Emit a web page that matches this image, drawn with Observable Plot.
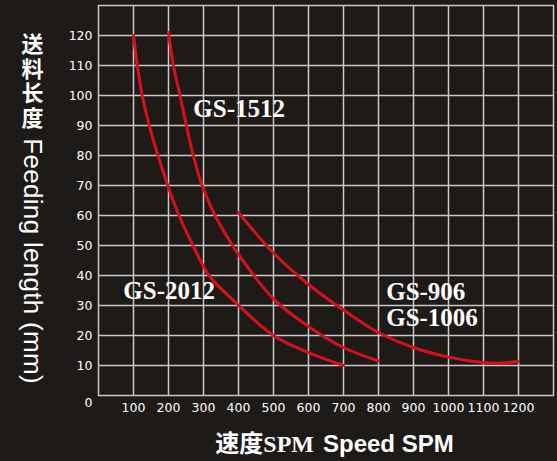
<!DOCTYPE html>
<html>
<head>
<meta charset="utf-8">
<script src="https://cdn.jsdelivr.net/npm/d3@7"></script>
<script src="https://cdn.jsdelivr.net/npm/@observablehq/plot@0.6"></script>
<style>
  html, body { margin: 0; padding: 0; background: #1e1a18; }
  #chart { width: 557px; height: 461px; }
</style>
</head>
<body>
<div id="chart"></div>
<script>
// Tick values
const xTicks = [100, 200, 300, 400, 500, 600, 700, 800, 900, 1000, 1100, 1200];
const yTicks = [10, 20, 30, 40, 50, 60, 70, 80, 90, 100, 110, 120];

// Series: speed (SPM) vs feeding length (mm)
const gs2012X = [100, 111, 125, 145, 170, 198, 230, 270, 316, 392, 500, 600, 700];
const gs2012Y = [120, 110, 100, 90, 80, 70, 60, 50, 40, 31, 20, 14.3, 10];

const gs1512X = [200, 214, 233, 251, 271, 296, 333, 383, 400, 500, 600, 700, 800];
const gs1512Y = [121, 110, 100, 90, 80, 70, 60, 50, 47, 32.2, 23, 16, 11.5];

const gs906X = [400, 500, 600, 700, 800, 900, 1000, 1100, 1150, 1200];
const gs906Y = [61, 47.5, 37, 28.5, 21, 16, 12.8, 11, 10.8, 11.4];

// Curve labels (anchored at start, data coordinates)
const labelText = ["GS-1512", "GS-2012", "GS-906", "GS-1006"];
const labelX = [271, 71, 822, 822];
const labelY = [95.5, 34.8, 34.5, 26.0];

// Axis titles
const yTitleCN = "送料长度";
const yTitleEN = "Feeding length (mm)";
const xTitleCN = "速度SPM";
const xTitleEN = "Speed SPM";

const lines = [
  ...gs2012X.map((x, i) => ({series: "GS-2012", x, y: gs2012Y[i]})),
  ...gs1512X.map((x, i) => ({series: "GS-1512", x, y: gs1512Y[i]})),
  ...gs906X.map((x, i) => ({series: "GS-906", x, y: gs906Y[i]}))
];
const labels = labelText.map((t, i) => ({text: t, x: labelX[i], y: labelY[i]}));

const gridColor = "#c8c8c8";
const red = "#d8101c";
const yTitle = yTitleCN + " " + yTitleEN;

const chart = Plot.plot({
  width: 557,
  height: 461,
  marginLeft: 98,
  marginRight: 4,
  marginTop: 5,
  marginBottom: 66,
  style: {background: "#1e1a18", color: "white", fontFamily: "'DejaVu Sans', sans-serif"},
  x: {domain: [0, 1300]},
  y: {domain: [0, 130]},
  marks: [
    Plot.gridX(xTicks, {stroke: gridColor, strokeOpacity: 1, strokeWidth: 1.5}),
    Plot.gridY(yTicks, {stroke: gridColor, strokeOpacity: 1, strokeWidth: 1.5}),
    Plot.frame({stroke: gridColor, strokeWidth: 1.5}),
    Plot.axisX(xTicks, {tickSize: 0, tickPadding: 8, fontSize: 12.5, fill: "white", label: null, tickFormat: d => String(d)}),
    Plot.axisY(yTicks, {tickSize: 0, tickPadding: 6, fontSize: 12.5, fill: "white", label: null}),
    Plot.text([{x: 0, y: 0, t: "0"}], {x: "x", y: "y", text: "t", textAnchor: "end", dx: -6, dy: 7, fontSize: 12.5, fill: "white"}),
    Plot.line(lines, {x: "x", y: "y", z: "series", stroke: red, strokeWidth: 3, curve: "catmull-rom"}),
    Plot.text(labels, {x: "x", y: "y", text: "text", textAnchor: "start", lineAnchor: "middle",
      fill: "white", fontFamily: "'Liberation Serif', 'Times New Roman', serif", fontWeight: "bold", fontSize: 25}),
    // Y axis title (vertical writing set below)
    Plot.text([yTitle], {frameAnchor: "top-left", textAnchor: "start", lineAnchor: "middle",
      dx: -66, dy: 19, fontSize: 26, fill: "white", fontFamily: "'Liberation Sans', 'Noto Sans CJK SC', sans-serif"}),
    // X axis title
    Plot.text([xTitleCN], {frameAnchor: "bottom", textAnchor: "end", lineAnchor: "middle",
      dx: -12, dy: 48.5, fontSize: 24, fontWeight: "bold", fill: "white",
      fontFamily: "'Liberation Serif', 'Noto Sans CJK SC', serif"}),
    Plot.text([xTitleEN], {frameAnchor: "bottom", textAnchor: "start", lineAnchor: "middle",
      dx: -3, dy: 48.5, fontSize: 24, fontWeight: "bold", fill: "white",
      fontFamily: "'Liberation Sans', Arial, sans-serif"})
  ]
});

// Vertical writing for the y title: Chinese upright, Latin rotated
d3.select(chart).selectAll("text").filter(function() { return this.textContent === yTitle; })
  .each(function() {
    const t = d3.select(this);
    t.attr("dy", null).style("writing-mode", "vertical-rl");
    t.text(null);
    t.append("tspan").text(yTitleCN)
      .style("font-size", "22px").style("font-weight", "600").style("letter-spacing", "2.5px")
      .style("font-family", "'Noto Sans CJK SC', sans-serif");
    t.append("tspan").text(" " + yTitleEN).style("letter-spacing", "0.3px");
  });

document.getElementById("chart").appendChild(chart);
</script>
</body>
</html>
